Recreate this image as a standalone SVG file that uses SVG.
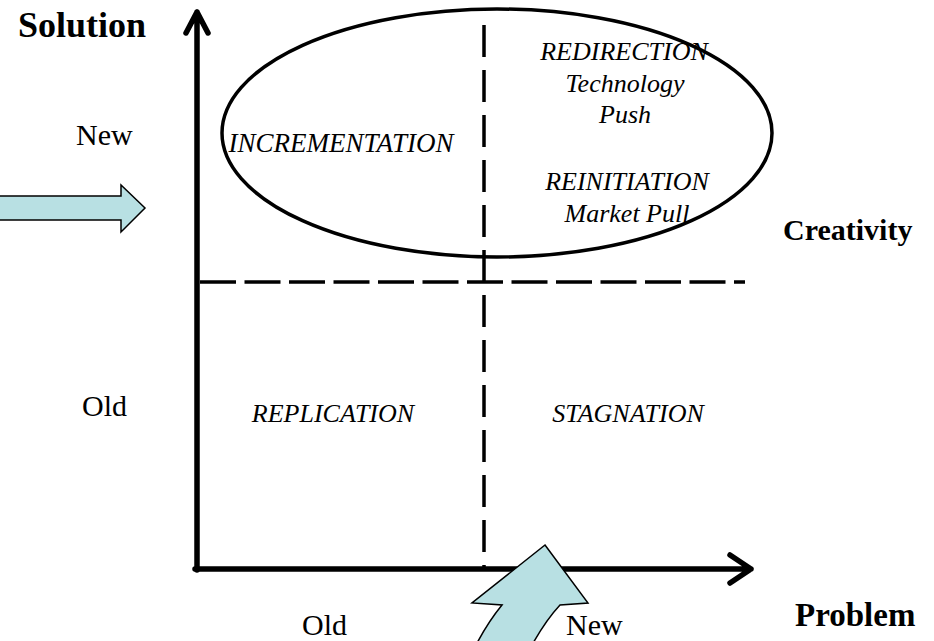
<svg xmlns="http://www.w3.org/2000/svg" width="934" height="641" viewBox="0 0 934 641">
  <style>
    .lbl { font-family: "Liberation Serif", "Times New Roman", serif; fill: #000; }
    .axis-title { font-size: 36px; font-weight: bold; }
    .side { font-size: 30px; font-weight: bold; }
    .level { font-size: 30px; }
    .quad { font-size: 26px; font-style: italic; text-anchor: middle; }
    .axis { stroke: #000; stroke-width: 5.5; fill: none; stroke-linecap: round; stroke-linejoin: round; }
    .divider { stroke: #000; stroke-width: 3.5; fill: none; }
    .block { fill: #b8e0e3; stroke: #000; stroke-width: 1.5; stroke-linejoin: miter; }
  </style>

  <rect width="934" height="641" fill="#fff"/>

  <!-- creative zone -->
  <g id="creativity-zone">
    <ellipse cx="497" cy="133" rx="275" ry="124" fill="none" stroke="#000" stroke-width="3.5"/>
  </g>

  <!-- axes and quadrant dividers -->
  <g id="connectors">
    <line class="divider" x1="484" y1="25" x2="484" y2="568" stroke-dasharray="32 13"/>
    <line class="divider" x1="200" y1="282" x2="745" y2="282" stroke-dasharray="36 8.5"/>
    <path class="axis" d="M197 570 V12 M186 33 L197 12 L208 33"/>
    <path class="axis" d="M195 569 H751 M730 555 L751 569 L730 583"/>
  </g>

  <!-- push arrows -->
  <g id="solution-push">
    <polygon class="block" points="-5,196 121,196 121,185 145,208 121,232 121,220 -5,220"/>
  </g>
  <g id="problem-push">
    <path class="block" d="M545 545 L588 603 L560 605 Q546 620 532 645 L476 645 Q488 622 502 605 L472 603 Z"/>
  </g>

  <!-- axis titles -->
  <g id="solution-title"><text class="lbl axis-title" x="18" y="37">Solution</text></g>
  <g id="problem-title"><text class="lbl axis-title" x="795" y="626" style="font-size:33px">Problem</text></g>
  <g id="creativity-title"><text class="lbl side" x="783" y="240">Creativity</text></g>

  <!-- axis levels -->
  <g id="solution-new"><text class="lbl level" x="76" y="145">New</text></g>
  <g id="solution-old"><text class="lbl level" x="82" y="416">Old</text></g>
  <g id="problem-old"><text class="lbl level" x="302" y="635">Old</text></g>
  <g id="problem-new"><text class="lbl level" x="566" y="635">New</text></g>

  <!-- quadrants -->
  <g id="incrementation"><text class="lbl quad" x="341" y="152" style="font-size:27px">INCREMENTATION</text></g>
  <g id="redirection">
    <text class="lbl quad" x="624" y="60">REDIRECTION</text>
    <text class="lbl quad" x="625" y="92">Technology</text>
    <text class="lbl quad" x="625" y="123">Push</text>
  </g>
  <g id="reinitiation">
    <text class="lbl quad" x="627" y="190">REINITIATION</text>
    <text class="lbl quad" x="627" y="222">Market Pull</text>
  </g>
  <g id="replication"><text class="lbl quad" x="333" y="422">REPLICATION</text></g>
  <g id="stagnation"><text class="lbl quad" x="628" y="422">STAGNATION</text></g>
</svg>
